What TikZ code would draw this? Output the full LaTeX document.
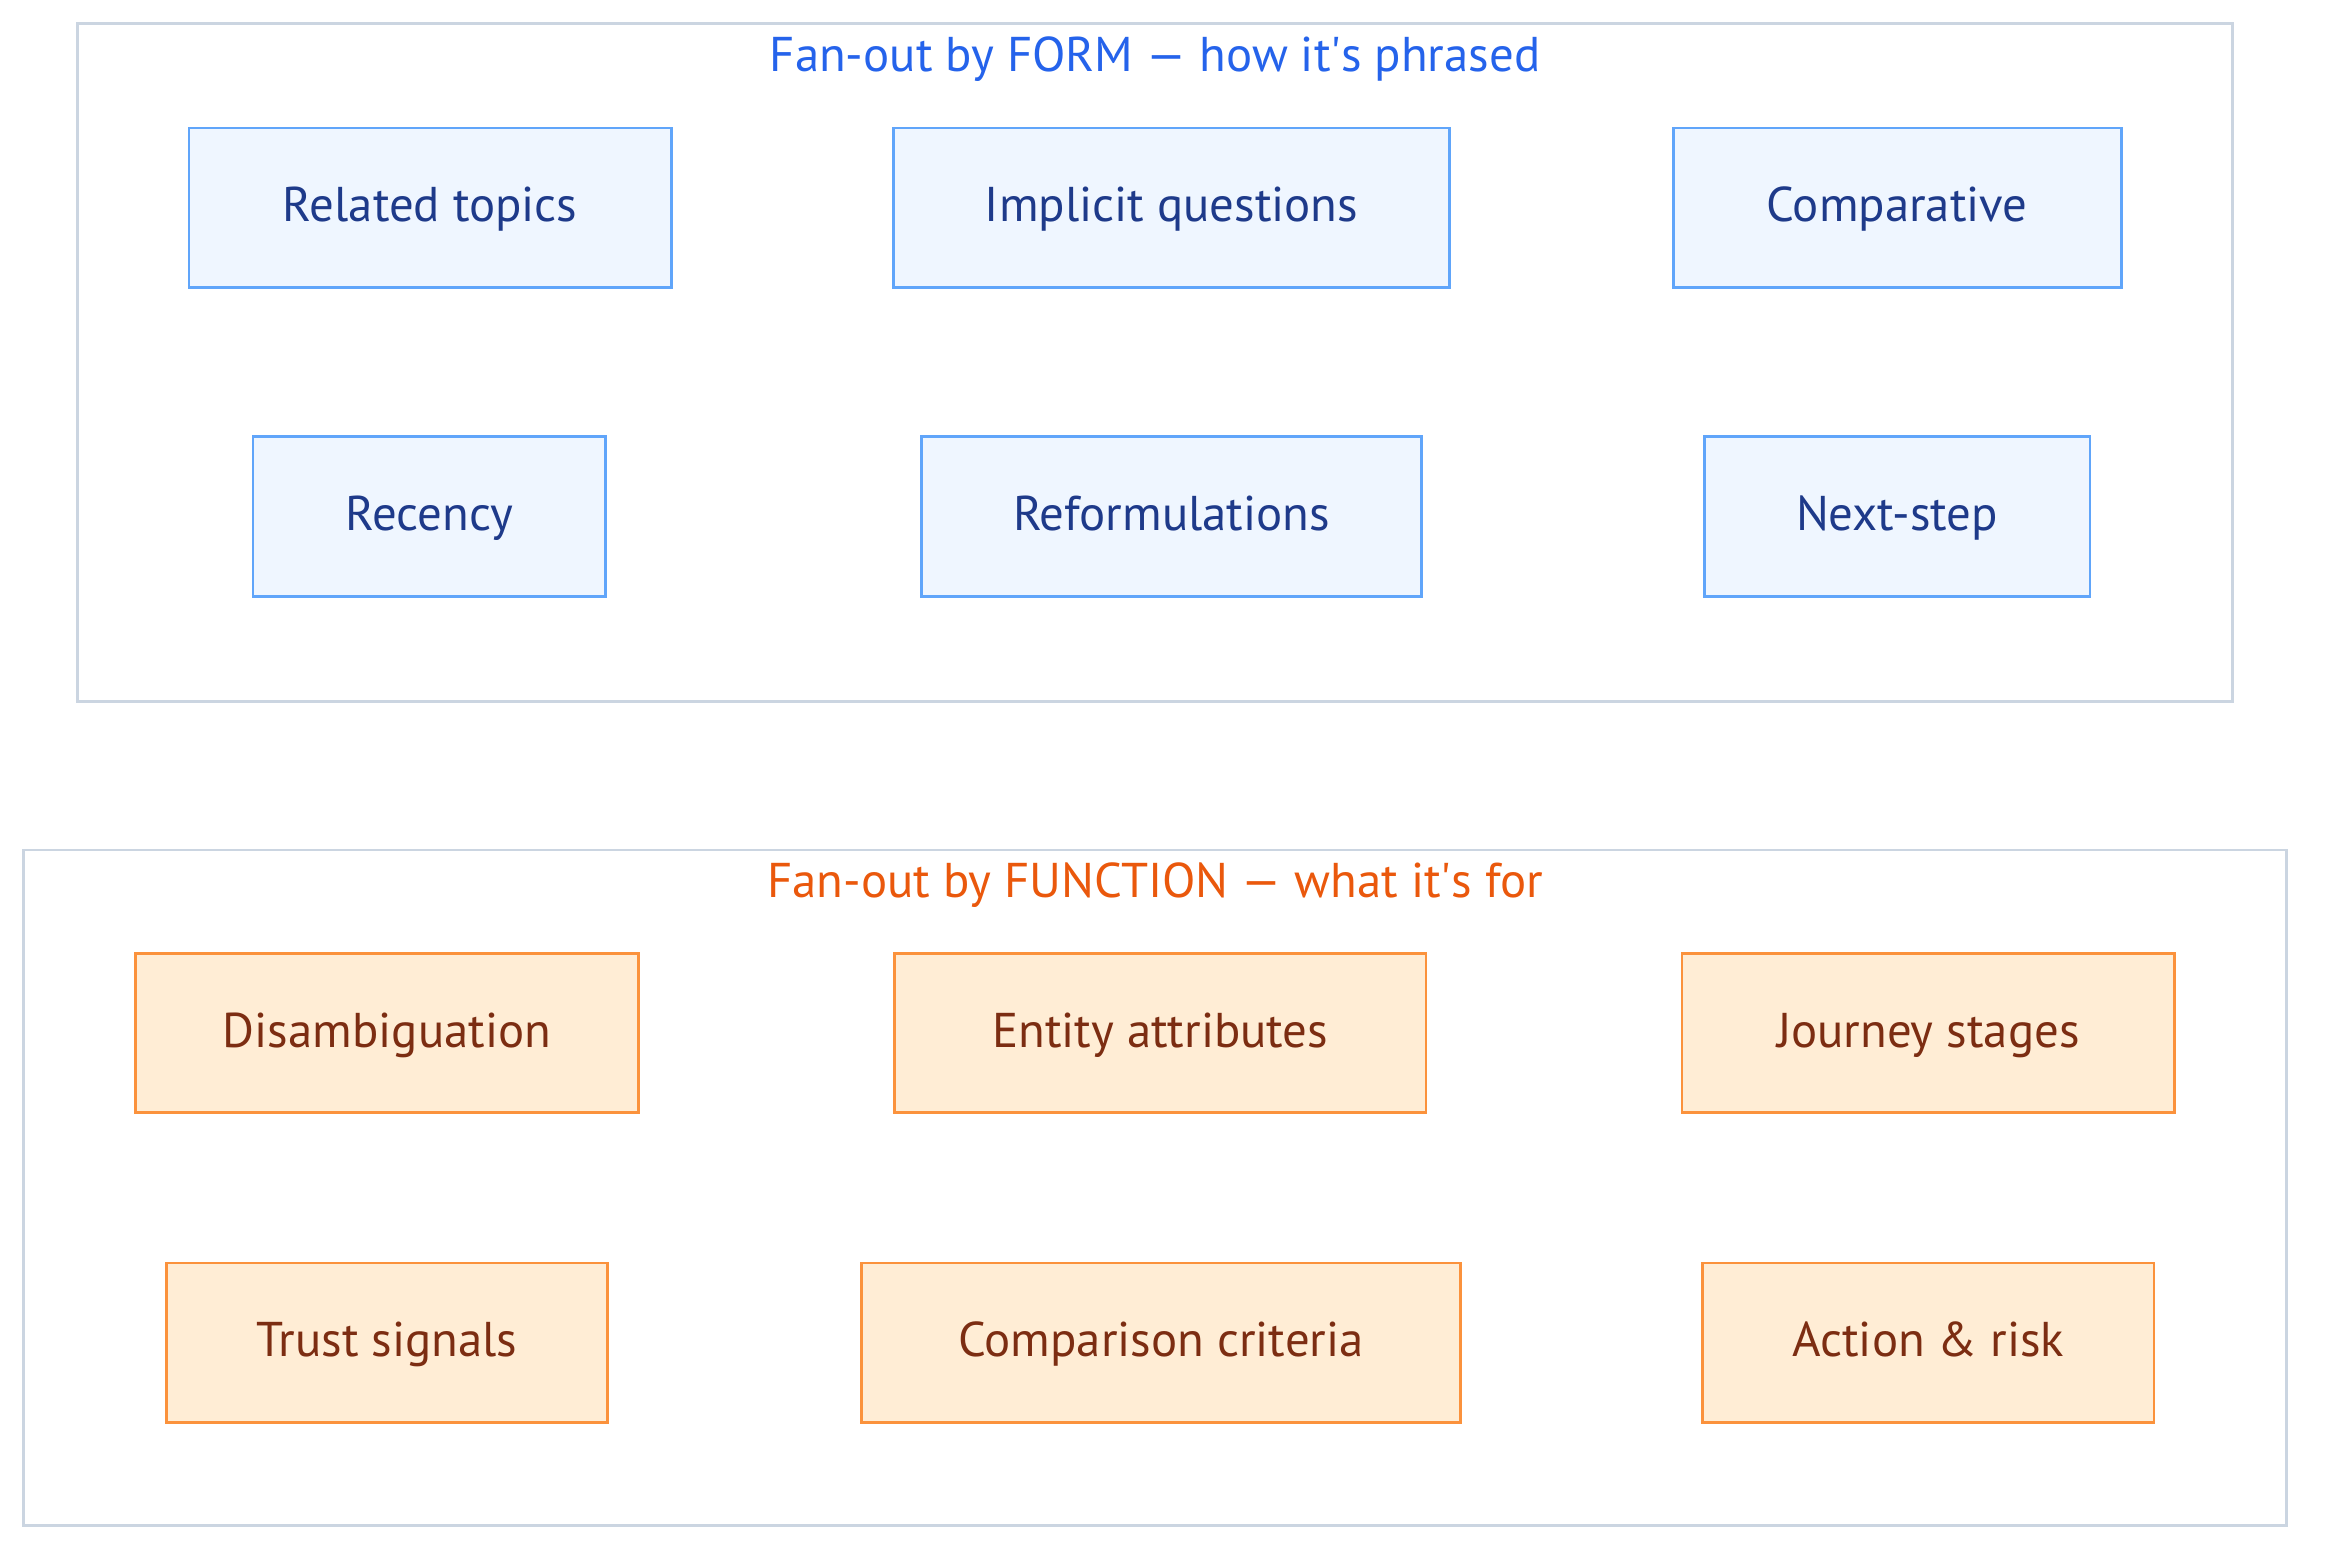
\documentclass[tikz,border=0pt]{standalone}
\usepackage{fontspec}
\setmainfont{PT Sans}
\usepackage{xcolor}
\usepackage{tikz}
\usetikzlibrary{positioning}

\definecolor{formfill}{HTML}{EFF6FF}
\definecolor{formline}{HTML}{60A5FA}
\definecolor{formtext}{HTML}{1E3A8A}
\definecolor{formtitle}{HTML}{2563EB}
\definecolor{funcfill}{HTML}{FFEDD5}
\definecolor{funcline}{HTML}{FB923C}
\definecolor{functext}{HTML}{7C2D12}
\definecolor{functitle}{HTML}{EA580C}
\definecolor{groupline}{HTML}{CBD5E1}

\begin{document}
\begin{tikzpicture}[
        x=0.015cm, y=-0.015cm,
        box/.style={rectangle, draw=#1line, fill=#1fill, text=#1text, line width=0.8pt,
                     minimum height=1.605cm, align=center, text height=11pt, text depth=3pt,
                     font=\fontsize{14}{16}\selectfont},
        group/.style={rectangle, draw=groupline, fill=white, line width=0.8pt},
        grouptitle/.style={font=\fontsize{14}{16}\selectfont, text=#1title,
                     text height=10pt, text depth=3pt}
    ]
        \useasboundingbox (0,0) rectangle (1568,1052);

        % Groups
        \node[group, minimum width=21.72cm, minimum height=6.825cm] (form) at (776,243.5) {};
        \node[grouptitle=form] (formlabel) at (776,40) {Fan-out by FORM — how it\textquotesingle s phrased};
        \node[group, minimum width=22.8cm, minimum height=6.81cm] (func) at (776,798) {};
        \node[grouptitle=func] (funclabel) at (776,595) {Fan-out by FUNCTION — what it\textquotesingle s for};

        % Form nodes
        \node[box=form, minimum width=4.86cm] (related) at (289,139.5) {Related topics};
        \node[box=form, minimum width=5.61cm] (implicit) at (787,139.5) {Implicit questions};
        \node[box=form, minimum width=4.515cm] (comparative) at (1274.5,139.5) {Comparative};
        \node[box=form, minimum width=3.555cm] (recency) at (288.5,347) {Recency};
        \node[box=form, minimum width=5.04cm] (reform) at (787,347) {Reformulations};
        \node[box=form, minimum width=3.885cm] (nextstep) at (1274.5,347) {Next-step};

        % Function nodes
        \node[box=func, minimum width=5.07cm] (disamb) at (260,694) {Disambiguation};
        \node[box=func, minimum width=5.355cm] (entity) at (779.5,694) {Entity attributes};
        \node[box=func, minimum width=4.965cm] (journey) at (1295.5,694) {Journey stages};
        \node[box=func, minimum width=4.44cm] (trust) at (260,902) {Trust signals};
        \node[box=func, minimum width=6.03cm] (criteria) at (780,902) {Comparison criteria};
        \node[box=func, minimum width=4.545cm] (action) at (1295.5,902) {Action \& risk};
    \end{tikzpicture}
\end{document}
